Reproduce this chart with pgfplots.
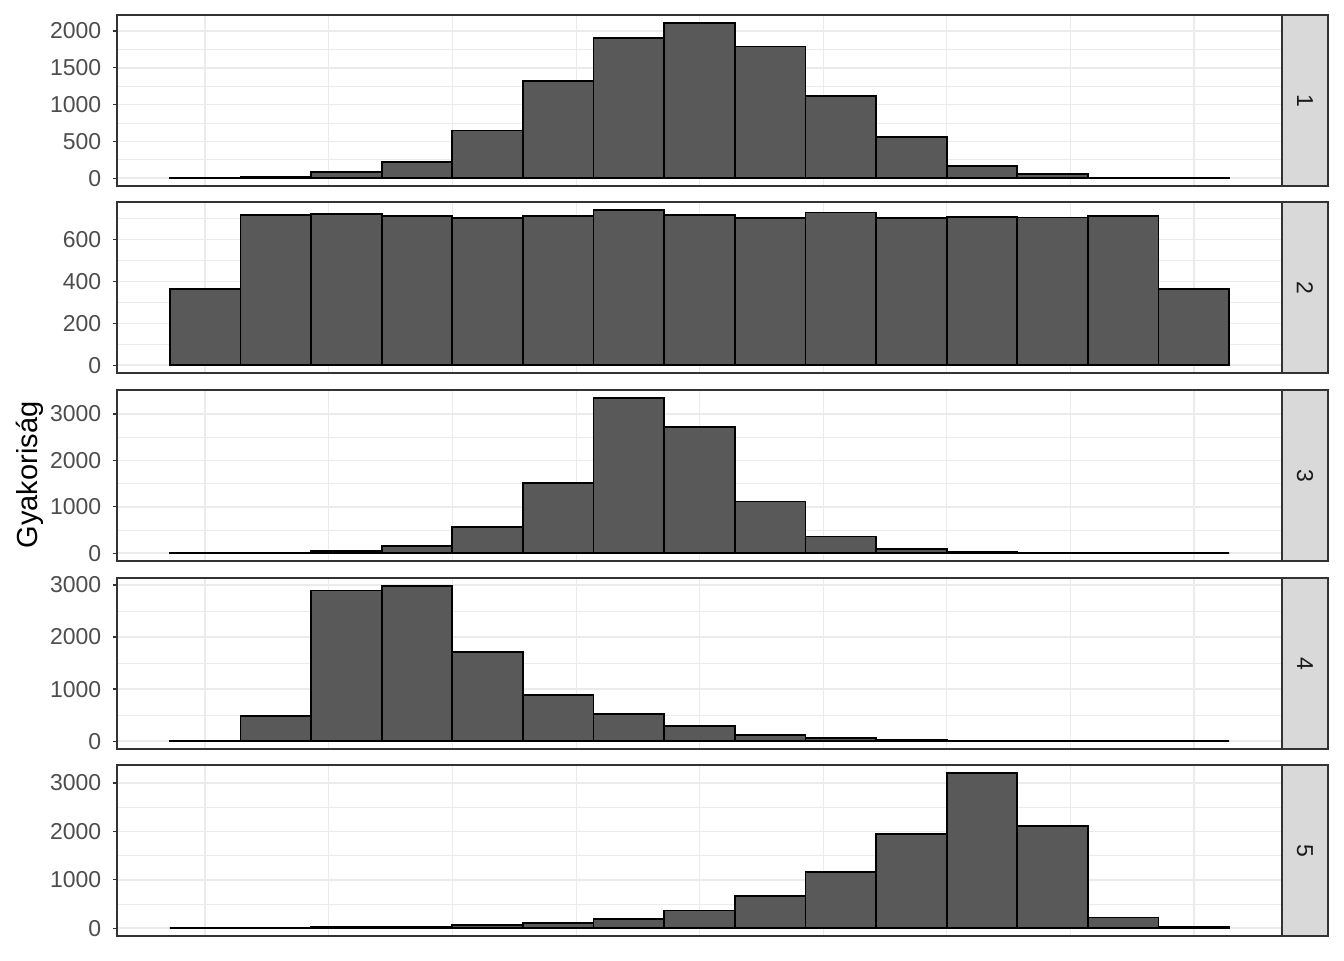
\documentclass[border=0pt]{standalone}
\usepackage{fontspec}
\setmainfont{Liberation Sans}
\usepackage{pgfplots}
\pgfplotsset{compat=1.18}
\definecolor{grid92}{HTML}{EBEBEB}
\definecolor{grey20}{HTML}{333333}
\definecolor{grey30}{HTML}{4D4D4D}
\definecolor{grey35}{HTML}{595959}
\definecolor{grey85}{HTML}{D9D9D9}
\definecolor{grey10}{HTML}{1A1A1A}

\pgfplotsset{
 panel/.style={
  scale only axis, width=582.5pt, height=85.5pt, anchor=north west,
  xmin=-0.75, xmax=15.75,
  xtick={0.5,4,7.5,11,14.5}, minor xtick={2.25,5.75,9.25,12.75},
  xticklabel={},
  xmajorticks=false,
  grid=both,
  major grid style={grid92, line width=0.8pt},
  minor grid style={grid92, line width=0.4pt},
  axis line style={grey20, line width=0.7pt},
  tick align=outside, ytick pos=left,
  major tick length=2.2pt,
  minor tick length=0pt,
  ytick style={grey20, line width=0.7pt},
  yticklabel style={font=\fontsize{11.5}{13}\selectfont, text=grey30, inner sep=1pt, xshift=-4.5pt},
  /pgf/number format/assume math mode=true,
  /pgf/number format/1000 sep={},
  clip=false,
 },
 hist/.style={ybar, bar width=1, bar shift=0pt, fill=grey35, draw=black, line width=0.9pt},
}
\newcommand{\strip}[2]{%
  \draw[fill=grey85, draw=grey20, line width=0.7pt] (#1.south east) rectangle ([xshift=23pt]#1.north east);
  \node[rotate=-90, text=grey10, font=\fontsize{11.5}{13}\selectfont] at ([xshift=11.5pt]#1.east) {#2};}

\begin{document}
\begin{tikzpicture}
\path[use as bounding box] (0,0) rectangle (672pt,480pt);

\begin{axis}[panel, name=p1, at={(58.5pt,472.5pt)},
  ymin=-105.55, ymax=2216.55,
  ytick={0,500,1000,1500,2000}, minor ytick={250,750,1250,1750}]
\addplot[hist] coordinates {(0.5,5) (1.5,18) (2.5,80) (3.5,215) (4.5,648) (5.5,1319) (6.5,1906) (7.5,2111) (8.5,1789) (9.5,1118) (10.5,555) (11.5,170) (12.5,58) (13.5,6) (14.5,2)};
\end{axis}

\begin{axis}[panel, name=p2, at={(58.5pt,379pt)},
  ymin=-37.1, ymax=779.1,
  ytick={0,200,400,600}, minor ytick={100,300,500,700}]
\addplot[hist] coordinates {(0.5,363) (1.5,718) (2.5,723) (3.5,714) (4.5,704) (5.5,712) (6.5,742) (7.5,718) (8.5,704) (9.5,729) (10.5,704) (11.5,709) (12.5,705) (13.5,714) (14.5,363)};
\end{axis}

\begin{axis}[panel, name=p3, at={(58.5pt,285pt)},
  ymin=-167.4, ymax=3515.4,
  ytick={0,1000,2000,3000}, minor ytick={500,1500,2500,3500}]
\addplot[hist] coordinates {(0.5,1) (1.5,3) (2.5,40) (3.5,156) (4.5,560) (5.5,1518) (6.5,3348) (7.5,2710) (8.5,1113) (9.5,362) (10.5,92) (11.5,35) (12.5,6) (13.5,1) (14.5,0)};
\end{axis}

\begin{axis}[panel, name=p4, at={(58.5pt,191pt)},
  ymin=-149.1, ymax=3131.1,
  ytick={0,1000,2000,3000}, minor ytick={500,1500,2500}]
\addplot[hist] coordinates {(0.5,12) (1.5,489) (2.5,2893) (3.5,2982) (4.5,1713) (5.5,894) (6.5,527) (7.5,285) (8.5,114) (9.5,64) (10.5,25) (11.5,6) (12.5,2) (13.5,1) (14.5,0)};
\end{axis}

\begin{axis}[panel, name=p5, at={(58.5pt,97.5pt)},
  ymin=-160.45, ymax=3369.45,
  ytick={0,1000,2000,3000}, minor ytick={500,1500,2500}]
\addplot[hist] coordinates {(0.5,0) (1.5,3) (2.5,20) (3.5,22) (4.5,61) (5.5,110) (6.5,183) (7.5,366) (8.5,670) (9.5,1158) (10.5,1950) (11.5,3209) (12.5,2112) (13.5,223) (14.5,25)};
\end{axis}

\strip{p1}{1}
\strip{p2}{2}
\strip{p3}{3}
\strip{p4}{4}
\strip{p5}{5}

\node[rotate=90, font=\fontsize{14.5}{17}\selectfont, text=black] at (15pt,242.5pt) {Gyakoriság};
\end{tikzpicture}
\end{document}
